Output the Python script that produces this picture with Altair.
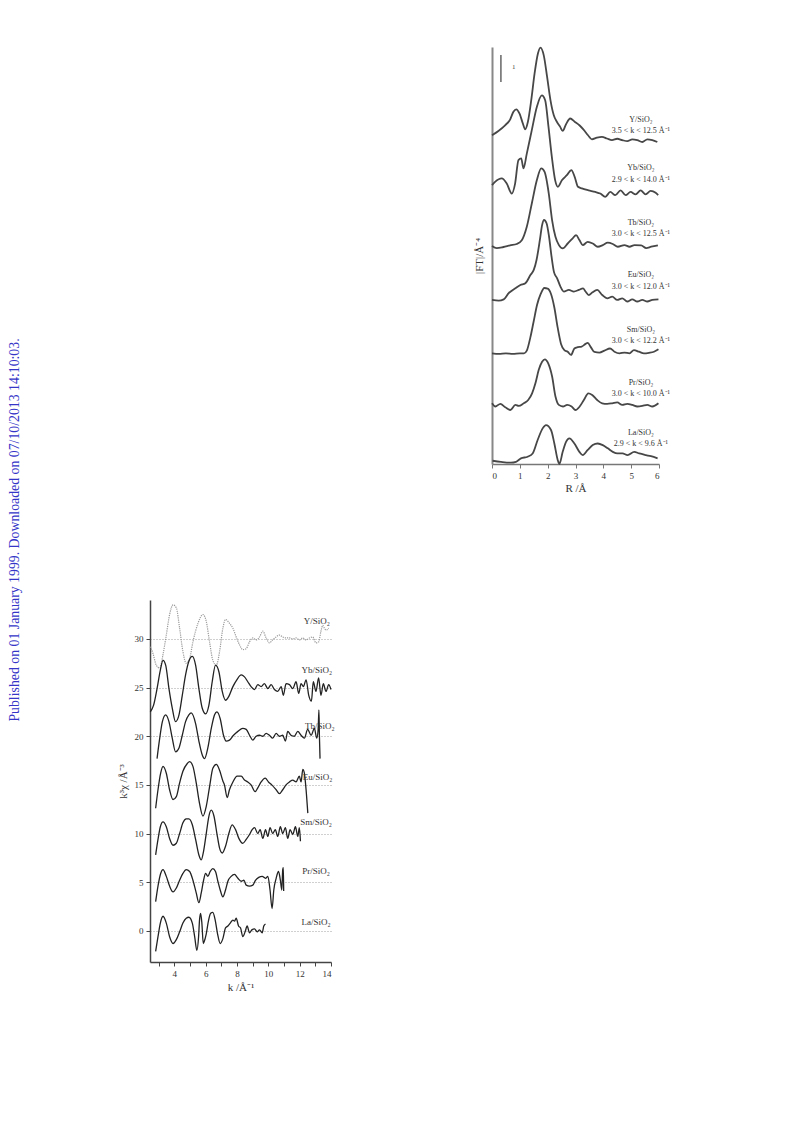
import altair as alt
import pandas as pd

FONT = "Liberation Serif"

# ---------------- Fourier transforms (top-right panel) ----------------
FT_NAMES = ["Y/SiO₂", "Yb/SiO₂", "Tb/SiO₂", "Eu/SiO₂", "Sm/SiO₂", "Pr/SiO₂", "La/SiO₂"]
FT_RANGES = ["3.5 < k < 12.5 Å⁻¹", "2.9 < k < 14.0 Å⁻¹", "3.0 < k < 12.5 Å⁻¹", "3.0 < k < 12.0 Å⁻¹",
             "3.0 < k < 12.2 Å⁻¹", "3.0 < k < 10.0 Å⁻¹", "2.9 < k < 9.6 Å⁻¹"]
FT_NAME_Y = [12.74, 10.95, 8.94, 7.00, 4.96, 2.99, 1.16]
FT_RANGE_Y = [12.34, 10.52, 8.52, 6.54, 4.57, 2.59, 0.74]

FT_Y_R = [0.0, 0.23, 0.47, 0.65, 0.77, 0.87, 0.99, 1.11, 1.19, 1.29, 1.41, 1.53, 1.65, 1.74, 1.86, 1.98, 2.10, 2.22, 2.33, 2.45, 2.54, 2.66, 2.81, 2.97, 3.14, 3.29, 3.45, 3.59, 3.77, 3.95, 4.13, 4.31, 4.50, 4.68, 4.86, 5.04, 5.22, 5.40, 5.58, 5.76, 5.94]
FT_Y_V = [12.18, 12.34, 12.55, 12.76, 13.05, 13.14, 12.98, 12.61, 12.40, 12.68, 13.48, 14.47, 15.21, 15.43, 15.14, 14.34, 13.48, 12.92, 12.68, 12.49, 12.34, 12.59, 12.80, 12.68, 12.55, 12.39, 12.18, 12.03, 12.09, 12.12, 12.06, 12.00, 12.05, 12.00, 11.96, 12.03, 12.00, 11.93, 12.03, 12.00, 11.93]

FT_YB_R = [0.0, 0.11, 0.35, 0.53, 0.71, 0.83, 0.95, 1.05, 1.13, 1.25, 1.43, 1.61, 1.79, 1.91, 2.03, 2.15, 2.27, 2.37, 2.51, 2.69, 2.85, 2.97, 3.09, 3.23, 3.47, 3.71, 3.89, 4.07, 4.25, 4.43, 4.62, 4.80, 4.98, 5.16, 5.34, 5.52, 5.70, 5.88, 5.97]
FT_YB_V = [10.33, 10.45, 10.58, 10.39, 10.02, 10.39, 11.26, 11.32, 10.95, 11.50, 12.37, 13.23, 13.66, 13.48, 12.49, 11.38, 10.51, 10.27, 10.51, 10.70, 10.89, 10.64, 10.27, 10.21, 10.14, 10.08, 10.02, 9.90, 10.08, 9.96, 10.14, 9.96, 10.08, 9.99, 10.14, 9.99, 10.12, 10.05, 9.96]

FT_TB_R = [0.0, 0.17, 0.41, 0.65, 0.89, 1.07, 1.25, 1.43, 1.61, 1.77, 1.89, 2.04, 2.16, 2.28, 2.40, 2.54, 2.72, 2.90, 3.02, 3.14, 3.26, 3.44, 3.62, 3.80, 3.98, 4.16, 4.34, 4.52, 4.76, 4.94, 5.12, 5.36, 5.54, 5.72, 5.96]
FT_TB_V = [8.08, 8.00, 8.04, 8.10, 8.15, 8.29, 8.79, 9.65, 10.51, 10.95, 10.82, 10.02, 9.03, 8.42, 8.12, 7.99, 8.17, 8.36, 8.48, 8.30, 8.11, 8.23, 8.17, 8.05, 8.11, 8.20, 8.15, 8.05, 8.11, 8.05, 8.11, 8.10, 8.00, 8.05, 8.10]

FT_EU_R = [0.0, 0.24, 0.42, 0.60, 0.84, 1.02, 1.20, 1.38, 1.50, 1.60, 1.72, 1.80, 1.87, 1.96, 2.05, 2.14, 2.23, 2.34, 2.46, 2.58, 2.76, 2.94, 3.12, 3.27, 3.36, 3.48, 3.60, 3.78, 3.96, 4.14, 4.32, 4.50, 4.68, 4.86, 5.04, 5.22, 5.40, 5.58, 5.76, 5.98]
FT_EU_V = [6.08, 6.05, 6.10, 6.33, 6.51, 6.63, 6.70, 7.00, 7.19, 7.56, 8.30, 8.85, 9.04, 8.92, 8.42, 7.68, 7.10, 6.88, 6.57, 6.39, 6.45, 6.39, 6.45, 6.51, 6.39, 6.26, 6.35, 6.45, 6.26, 6.14, 6.20, 6.08, 6.14, 6.02, 6.10, 6.02, 6.08, 6.02, 6.08, 6.10]

FT_SM_R = [0.0, 0.25, 0.5, 0.75, 1.0, 1.15, 1.25, 1.38, 1.50, 1.62, 1.75, 1.88, 2.00, 2.12, 2.24, 2.36, 2.48, 2.60, 2.72, 2.84, 2.96, 3.08, 3.22, 3.36, 3.44, 3.55, 3.68, 3.86, 4.04, 4.24, 4.40, 4.58, 4.76, 4.94, 5.10, 5.28, 5.46, 5.64, 5.82, 5.98]
FT_SM_V = [4.10, 4.08, 4.10, 4.08, 4.10, 4.10, 4.20, 4.70, 5.30, 5.90, 6.30, 6.52, 6.50, 6.30, 5.80, 5.05, 4.45, 4.22, 4.16, 4.04, 4.28, 4.33, 4.35, 4.45, 4.49, 4.33, 4.15, 4.13, 4.20, 4.28, 4.16, 4.10, 4.13, 4.10, 4.22, 4.16, 4.10, 4.12, 4.16, 4.25]

FT_PR_R = [0.0, 0.12, 0.30, 0.48, 0.66, 0.84, 0.96, 1.14, 1.30, 1.44, 1.56, 1.68, 1.80, 1.90, 2.02, 2.16, 2.28, 2.40, 2.55, 2.70, 2.86, 3.00, 3.15, 3.30, 3.46, 3.60, 3.78, 3.96, 4.14, 4.32, 4.50, 4.68, 4.86, 5.04, 5.22, 5.40, 5.58, 5.76, 5.98]
FT_PR_V = [2.25, 2.13, 2.23, 2.10, 2.00, 2.19, 2.15, 2.25, 2.37, 2.62, 2.99, 3.49, 3.79, 3.88, 3.73, 3.24, 2.50, 2.19, 2.13, 2.19, 2.13, 2.00, 2.13, 2.37, 2.62, 2.56, 2.37, 2.25, 2.23, 2.25, 2.28, 2.19, 2.23, 2.19, 2.13, 2.15, 2.19, 2.13, 2.25]

FT_LA_R = [0.02, 0.32, 0.68, 0.86, 1.04, 1.28, 1.46, 1.64, 1.82, 1.94, 2.12, 2.24, 2.36, 2.42, 2.54, 2.66, 2.78, 2.96, 3.14, 3.26, 3.44, 3.62, 3.80, 3.98, 4.16, 4.34, 4.51, 4.69, 4.87, 5.11, 5.29, 5.53, 5.71, 5.95]
FT_LA_V = [0.12, 0.08, 0.05, 0.08, 0.21, 0.27, 0.39, 0.89, 1.32, 1.44, 1.26, 0.76, 0.15, 0.00, 0.45, 0.82, 0.95, 0.76, 0.45, 0.33, 0.52, 0.70, 0.76, 0.70, 0.58, 0.45, 0.39, 0.39, 0.33, 0.45, 0.39, 0.33, 0.29, 0.21]

FT_SERIES = [(FT_NAMES[0], FT_Y_R, FT_Y_V), (FT_NAMES[1], FT_YB_R, FT_YB_V), (FT_NAMES[2], FT_TB_R, FT_TB_V),
             (FT_NAMES[3], FT_EU_R, FT_EU_V), (FT_NAMES[4], FT_SM_R, FT_SM_V), (FT_NAMES[5], FT_PR_R, FT_PR_V),
             (FT_NAMES[6], FT_LA_R, FT_LA_V)]

SCALE_BAR = {"R": [0.32], "lo": [14.15], "hi": [15.15]}

# ---------------- k^3 chi(k) (bottom-left panel) ----------------
K_NAMES = ["Y/SiO₂", "Yb/SiO₂", "Tb/SiO₂", "Eu/SiO₂", "Sm/SiO₂", "Pr/SiO₂", "La/SiO₂"]
K_LABEL_K = [13.10, 13.09, 13.28, 13.15, 13.04, 13.04, 13.04]
K_LABEL_Y = [31.8, 26.8, 21.07, 15.76, 11.14, 6.2, 0.86]

KY_K = [2.47, 2.64, 2.85, 3.07, 3.28, 3.49, 3.70, 3.92, 4.13, 4.34, 4.55, 4.76, 4.98, 5.19, 5.51, 5.83, 6.04, 6.25, 6.46, 6.68, 6.89, 7.10, 7.27, 7.52, 7.74, 7.95, 8.16, 8.37, 8.59, 8.80, 9.01, 9.22, 9.44, 9.65, 9.86, 10.07, 10.28, 10.50, 10.71, 10.92, 11.13, 11.35, 11.56, 11.77, 11.98, 12.20, 12.41, 12.62, 12.83, 13.04, 13.21, 13.36, 13.47, 13.58, 13.68, 13.85]
KY_V = [29.2, 28.5, 27.3, 27.0, 28.4, 30.4, 32.5, 33.5, 33.2, 31.1, 28.7, 27.5, 28.0, 29.7, 31.6, 32.5, 31.8, 29.7, 27.8, 27.3, 28.7, 31.1, 32.0, 31.6, 31.1, 30.2, 29.4, 28.9, 29.0, 29.7, 30.1, 29.9, 30.2, 30.8, 30.1, 29.6, 29.9, 30.2, 30.4, 30.2, 30.1, 30.1, 30.0, 30.1, 29.9, 30.1, 29.9, 30.1, 30.2, 29.6, 29.7, 30.8, 31.4, 31.1, 30.9, 31.1]

KYB_K = [2.47, 2.68, 2.90, 3.11, 3.28, 3.45, 3.66, 3.87, 4.08, 4.30, 4.51, 4.72, 4.93, 5.15, 5.36, 5.57, 5.78, 6.00, 6.21, 6.42, 6.63, 6.85, 7.06, 7.27, 7.48, 7.74, 7.99, 8.27, 8.48, 8.69, 8.90, 9.12, 9.33, 9.54, 9.75, 9.97, 10.18, 10.39, 10.60, 10.82, 10.96, 11.13, 11.35, 11.56, 11.77, 11.94, 12.09, 12.24, 12.41, 12.58, 12.75, 12.87, 13.04, 13.21, 13.36, 13.51, 13.68, 13.85, 14.0]
KYB_V = [22.5, 23.2, 24.9, 26.8, 27.8, 27.3, 24.9, 22.9, 21.5, 22.2, 24.2, 26.3, 27.7, 28.2, 27.3, 24.9, 22.9, 22.3, 23.2, 25.6, 27.3, 26.6, 24.6, 23.7, 24.1, 25.1, 25.8, 26.3, 26.1, 25.6, 25.1, 24.8, 25.3, 25.1, 25.4, 24.9, 25.3, 24.8, 24.6, 25.1, 24.2, 25.4, 25.3, 24.9, 25.6, 24.4, 25.4, 25.1, 25.8, 24.2, 23.6, 25.6, 24.6, 26.0, 24.2, 25.4, 24.6, 25.3, 24.8]

KTB_K = [2.90, 3.07, 3.24, 3.45, 3.66, 3.87, 4.08, 4.30, 4.51, 4.72, 4.93, 5.08, 5.36, 5.57, 5.78, 5.93, 6.14, 6.36, 6.57, 6.72, 6.93, 7.14, 7.31, 7.52, 7.78, 8.06, 8.37, 8.59, 8.80, 9.01, 9.22, 9.44, 9.65, 9.86, 10.07, 10.28, 10.50, 10.71, 10.92, 11.09, 11.24, 11.45, 11.66, 11.88, 12.09, 12.30, 12.51, 12.73, 12.94, 13.09, 13.18, 13.23, 13.26, 13.30]
KTB_V = [17.7, 19.8, 21.5, 22.2, 21.5, 19.8, 18.4, 18.8, 20.1, 21.5, 22.2, 22.4, 21.3, 19.5, 18.1, 17.7, 18.8, 20.8, 22.2, 22.5, 21.8, 20.1, 19.5, 19.6, 20.1, 20.5, 20.8, 20.7, 20.1, 19.6, 20.0, 20.1, 20.0, 20.3, 20.1, 19.8, 20.3, 20.0, 20.1, 19.5, 20.5, 20.1, 20.0, 20.5, 20.1, 19.8, 20.7, 20.1, 20.8, 19.8, 20.7, 22.7, 20.1, 17.7]

KEU_K = [2.81, 2.96, 3.13, 3.28, 3.49, 3.70, 3.92, 4.13, 4.34, 4.55, 4.83, 4.98, 5.19, 5.40, 5.61, 5.83, 6.04, 6.25, 6.46, 6.68, 6.89, 7.10, 7.20, 7.38, 7.52, 7.74, 8.01, 8.27, 8.48, 8.69, 8.90, 9.16, 9.33, 9.54, 9.80, 10.01, 10.22, 10.50, 10.71, 10.92, 11.13, 11.35, 11.56, 11.77, 11.98, 12.09, 12.20, 12.30, 12.41, 12.52]
KEU_V = [12.6, 14.5, 16.2, 16.9, 16.2, 14.5, 13.5, 13.8, 15.2, 16.4, 17.2, 17.4, 16.9, 15.2, 13.1, 11.8, 12.8, 14.8, 16.7, 17.1, 16.5, 15.4, 15.0, 13.7, 14.5, 15.3, 15.9, 15.9, 15.5, 15.3, 15.0, 14.3, 14.7, 15.3, 15.7, 15.3, 15.0, 14.5, 14.1, 14.5, 15.0, 15.3, 15.5, 15.3, 15.9, 15.3, 16.6, 16.2, 14.5, 12.1]

KSM_K = [2.81, 2.96, 3.11, 3.28, 3.49, 3.70, 3.92, 4.13, 4.34, 4.55, 4.76, 4.93, 5.15, 5.36, 5.57, 5.72, 5.87, 6.04, 6.21, 6.36, 6.53, 6.72, 6.89, 7.06, 7.27, 7.48, 7.69, 7.91, 8.12, 8.37, 8.59, 8.80, 8.97, 9.12, 9.33, 9.48, 9.65, 9.82, 9.97, 10.11, 10.28, 10.45, 10.60, 10.77, 10.92, 11.09, 11.24, 11.39, 11.56, 11.73, 11.88, 11.98, 12.05]
KSM_V = [7.8, 9.4, 10.7, 11.2, 10.7, 9.5, 8.8, 9.0, 10.0, 11.1, 11.5, 11.5, 10.9, 9.4, 7.8, 7.3, 8.2, 10.0, 11.8, 12.4, 11.8, 10.0, 8.5, 8.0, 8.7, 10.0, 10.9, 10.4, 9.5, 9.0, 9.4, 9.9, 10.4, 10.6, 10.0, 10.4, 9.5, 10.4, 9.7, 10.6, 10.0, 10.4, 9.7, 10.7, 10.0, 10.6, 9.5, 10.4, 9.9, 10.7, 9.7, 10.6, 9.2]

KPR_K = [2.81, 2.96, 3.13, 3.28, 3.49, 3.70, 3.92, 4.13, 4.34, 4.55, 4.76, 4.98, 5.19, 5.40, 5.57, 5.72, 5.87, 6.00, 6.14, 6.29, 6.46, 6.63, 6.78, 6.93, 7.10, 7.27, 7.42, 7.63, 7.84, 8.06, 8.27, 8.44, 8.59, 8.80, 9.01, 9.18, 9.39, 9.61, 9.82, 9.97, 10.11, 10.24, 10.35, 10.50, 10.65, 10.77, 10.86, 10.92, 10.96, 10.98]
KPR_V = [3.0, 4.6, 5.9, 6.3, 5.6, 4.6, 4.0, 4.4, 5.2, 5.9, 6.3, 6.1, 5.2, 3.9, 2.9, 3.9, 5.2, 5.9, 5.6, 6.1, 6.4, 6.1, 5.1, 4.2, 3.5, 4.2, 5.1, 5.6, 5.8, 5.4, 5.1, 5.2, 4.7, 4.6, 4.7, 5.2, 5.5, 5.6, 5.4, 5.6, 4.2, 2.3, 4.2, 5.4, 6.1, 5.2, 4.2, 6.3, 6.5, 4.1]

KLA_K = [2.81, 2.96, 3.11, 3.28, 3.49, 3.70, 3.92, 4.13, 4.34, 4.55, 4.76, 4.93, 5.15, 5.30, 5.44, 5.55, 5.61, 5.68, 5.76, 5.85, 5.91, 6.04, 6.19, 6.32, 6.46, 6.61, 6.76, 6.93, 7.10, 7.27, 7.42, 7.57, 7.74, 7.84, 7.95, 8.10, 8.23, 8.37, 8.52, 8.65, 8.80, 8.95, 9.12, 9.29, 9.44, 9.61, 9.71, 9.82]
KLA_V = [-2.1, -0.6, 0.8, 1.5, 0.8, -0.6, -1.3, -0.9, -0.1, 0.8, 1.3, 1.4, 0.8, -0.6, -2.0, -0.6, 1.1, 1.8, 0.8, -1.3, -1.1, -0.3, 1.1, 1.8, 1.9, 1.1, -0.3, -1.3, -0.8, 0.3, 0.5, 0.8, 1.1, 1.0, 1.3, 0.5, 0.3, -0.6, -0.1, 0.5, -0.2, 0.1, 0.2, -0.1, 0.1, -0.2, 0.5, 0.7]

K_SERIES = [(K_NAMES[0], KY_K, KY_V), (K_NAMES[1], KYB_K, KYB_V), (K_NAMES[2], KTB_K, KTB_V),
            (K_NAMES[3], KEU_K, KEU_V), (K_NAMES[4], KSM_K, KSM_V), (K_NAMES[5], KPR_K, KPR_V),
            (K_NAMES[6], KLA_K, KLA_V)]

Y_TICKS = [0, 5, 10, 15, 20, 25, 30]
K_TICKS = [3, 4, 5, 6, 7, 8, 9, 10, 11, 12, 13, 14]
R_TICKS = [0, 1, 2, 3, 4, 5, 6]

WATERMARK = "Published on 01 January 1999. Downloaded on 07/10/2013 14:10:03."

# ---------------- build tables ----------------
ft_rows = []
for name, rs, vs in FT_SERIES:
    for r, v in zip(rs, vs):
        ft_rows.append({"sample": name, "R": r, "v": v})
ft_df = pd.DataFrame(ft_rows)

ft_lab = pd.DataFrame({"name": FT_NAMES, "rng": FT_RANGES, "ny": FT_NAME_Y, "ry": FT_RANGE_Y,
                       "x": [5.35] * len(FT_NAMES)})

k_rows = []
for name, ks, vs in K_SERIES:
    for k, v in zip(ks, vs):
        k_rows.append({"sample": name, "k": k, "v": v, "dotted": name == "Y/SiO₂"})
k_df = pd.DataFrame(k_rows)
k_lab = pd.DataFrame({"name": K_NAMES, "k": K_LABEL_K, "y": K_LABEL_Y})

AX = dict(labelFont=FONT, titleFont=FONT, titleFontWeight="normal", labelOverlap=False, tickCount=30)

# ---------------- top panel ----------------
FT_W, FT_H = 167, 417
xR = alt.X("R:Q", scale=alt.Scale(domain=[0, 6], nice=False),
           axis=alt.Axis(values=R_TICKS, title="R /Å", format="d", tickSize=4, labelPadding=3,
                         titlePadding=2, labelFontSize=9, titleFontSize=11, domainColor="#777",
                         tickColor="#777", domainWidth=1.5, labelColor="#333", titleColor="#333",
                         grid=False, **AX))
yR = alt.Y("v:Q", scale=alt.Scale(domain=[0, 15.45], nice=False, zero=False),
           axis=alt.Axis(title="|FT|/Å⁻⁴", ticks=False, labels=False, grid=False, titlePadding=8,
                         titleFontSize=11, domainColor="#888", domainWidth=2, titleColor="#333", **AX))

ft_lines = alt.Chart(ft_df).mark_line(interpolate="monotone", color="#474747", strokeWidth=1.8).encode(
    x=xR, y=yR, detail="sample:N")
bar = alt.Chart(pd.DataFrame(SCALE_BAR)).mark_rule(color="#666", strokeWidth=1.5).encode(
    x="R:Q", y="lo:Q", y2="hi:Q")
bar_txt = alt.Chart(pd.DataFrame({"R": [0.78], "y": [14.72], "t": ["1"]})).mark_text(
    font=FONT, fontSize=7, color="#444").encode(x="R:Q", y="y:Q", text="t:N")
ft_names = alt.Chart(ft_lab).mark_text(font=FONT, fontSize=8, color="#333").encode(
    x="x:Q", y="ny:Q", text="name:N")
ft_ranges = alt.Chart(ft_lab).mark_text(font=FONT, fontSize=8, color="#333").encode(
    x="x:Q", y="ry:Q", text="rng:N")
top_plot = alt.layer(ft_lines, bar, bar_txt, ft_names, ft_ranges).properties(width=FT_W, height=FT_H)

# ---------------- bottom panel ----------------
K_W, K_H = 181, 362
xk = alt.X("k:Q", scale=alt.Scale(domain=[2.45, 14], nice=False),
           axis=alt.Axis(values=K_TICKS, title="k /Å⁻¹", tickSize=4, labelPadding=3, titlePadding=3,
                         format="d", labelExpr="datum.value % 2 == 0 ? datum.label : ''",
                         labelFontSize=9, titleFontSize=11, domainColor="#444", tickColor="#444",
                         domainWidth=1.5, labelColor="#333", titleColor="#333", grid=False, **AX))
yk = alt.Y("v:Q", scale=alt.Scale(domain=[-3.2, 34], nice=False, zero=False),
           axis=alt.Axis(values=Y_TICKS, title="k³χ /Å⁻³", tickSize=4, labelPadding=3, titlePadding=6,
                         format="d", labelFontSize=9, titleFontSize=11, domainColor="#444", tickColor="#444",
                         domainWidth=1.5, labelColor="#333", titleColor="#333",
                         grid=True, gridDash=[1, 2], gridColor="#888", gridWidth=0.8, **AX))

k_solid = alt.Chart(k_df).transform_filter("!datum.dotted").mark_line(
    interpolate="monotone", color="#222", strokeWidth=1.3).encode(x=xk, y=yk, detail="sample:N")
k_dot = alt.Chart(k_df).transform_filter("datum.dotted").mark_line(
    interpolate="monotone", color="#999", strokeWidth=1.2, strokeDash=[1.2, 1]).encode(
    x=xk, y=yk, detail="sample:N")
k_names = alt.Chart(k_lab).mark_text(font=FONT, fontSize=9, color="#333").encode(
    x="k:Q", y="y:Q", text="name:N")
bottom_plot = alt.layer(k_dot, k_solid, k_names).properties(width=K_W, height=K_H)

# ---------------- layout ----------------
def spacer(w, h):
    return alt.Chart(pd.DataFrame({"a": [0]})).mark_point(opacity=0, size=1).encode(
        x=alt.value(w / 2), y=alt.value(h / 2)).properties(width=w, height=h)

wm = alt.Chart(pd.DataFrame({"t": [WATERMARK]})).mark_text(
    angle=270, font=FONT, fontSize=13.8, color="#3535c8", align="center", baseline="middle").encode(
    text="t:N", x=alt.value(6), y=alt.value(522)).properties(width=141, height=1000)

col1 = alt.vconcat(spacer(K_W, 592), bottom_plot, spacing=0, bounds="flush")
col2 = alt.vconcat(spacer(FT_W, 39), top_plot, spacing=0, bounds="flush")

chart = alt.hconcat(wm, col1, spacer(342, 10), col2, spacing=0, bounds="flush").properties(
    padding=0, background="white"
).configure_view(stroke=None)

chart.save("out.html", embed_options={"renderer": "svg", "actions": False})
